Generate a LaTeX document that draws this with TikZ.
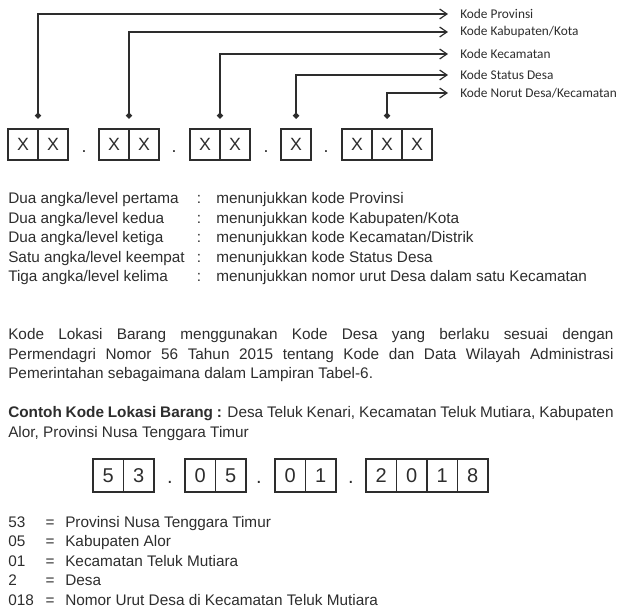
\documentclass[tikz,border=0pt]{standalone}
\usepackage{fontspec}
\setmainfont{Liberation Sans}
\newfontfamily\labelfont{Carlito}
\usetikzlibrary{arrows.meta,positioning}
\definecolor{inkGray}{RGB}{45,45,45}
\hyphenpenalty=10000
\exhyphenpenalty=10000

\begin{document}
\begin{tikzpicture}[x=0.75pt,y=-0.75pt,font=\fontsize{11.5}{14.6}\selectfont,text=inkGray,
 cell/.style={draw=inkGray,line width=.8pt,minimum width=22.5pt,minimum height=23.25pt,inner sep=0pt,font=\fontsize{13.3}{16}\selectfont},
 digitcell/.style={cell,minimum width=22.9pt,minimum height=24.75pt,font=\fontsize{15}{18}\selectfont},
 dotsep/.style={anchor=base,inner sep=0pt,font=\fontsize{13.3}{16}\selectfont},
 kodelabel/.style={anchor=west,inner xsep=9pt,inner ysep=0pt,font=\labelfont\fontsize{10}{12}\selectfont},
 rowtext/.style={anchor=base west,inner sep=0pt},
 conn/.style={{Diamond[length=5pt,width=5pt]}-{Straight Barb[length=5.5pt,width=7.5pt]},line width=.9pt,draw=inkGray}]
\path[use as bounding box] (0,0) rectangle (622,613);
% code template
\foreach \cx [count=\i] in {23,53,114,144,205,235,296,357,387,417}
 \node[cell] (x\i) at (\cx,144.5) {X};
\foreach \dx [count=\i] in {84,174,266,326}
 \node[dotsep] (sepx\i) at (\dx,153) {.};
\node[kodelabel] (kode1) at (448,14) {Kode Provinsi};
\node[kodelabel] (kode2) at (448,32) {Kode Kabupaten/Kota};
\node[kodelabel] (kode3) at (448,54) {Kode Kecamatan};
\node[kodelabel] (kode4) at (448,75) {Kode Status Desa};
\node[kodelabel] (kode5) at (448,93) {Kode Norut Desa/Kecamatan};
\foreach \px [count=\i] in {38,129,220,296,387} {
 \coordinate (pin\i) at (\px,119);
 \draw[conn] (pin\i) |- (kode\i.west);
}
% level list
\foreach \lvl/\desc [count=\i] in {{Dua angka/level pertama}/{menunjukkan kode Provinsi},
 {Dua angka/level kedua}/{menunjukkan kode Kabupaten/Kota},
 {Dua angka/level ketiga}/{menunjukkan kode Kecamatan/Distrik},
 {Satu angka/level keempat}/{menunjukkan kode Status Desa},
 {Tiga angka/level kelima}/{menunjukkan nomor urut Desa dalam satu Kecamatan}} {
 \node[rowtext] (lvl\i) at (8,{204+19.5*(\i-1)}) {\lvl};
 \node[anchor=base,inner sep=0pt] (colon\i) at (199,{204+19.5*(\i-1)}) {:};
 \node[rowtext] (desc\i) at (216,{204+19.5*(\i-1)}) {\desc};
}
\node[anchor=north west,inner sep=0pt,text width=454pt,align=justify] (aturan) at (8,328.6)
 {Kode Lokasi Barang menggunakan Kode Desa yang berlaku sesuai dengan\linebreak
 Permendagri Nomor 56 Tahun 2015 tentang Kode dan Data Wilayah Administrasi\linebreak
 Pemerintahan sebagaimana dalam Lampiran Tabel-6.};
\node[anchor=north west,inner sep=0pt,text width=454pt,align=justify] (contoh) at (8,406.6)
 {\textbf{Contoh Kode Lokasi Barang :} Desa Teluk Kenari, Kecamatan Teluk Mutiara, Kabupaten
 Alor, Provinsi Nusa Tenggara Timur};
% example code
\foreach \cx/\d [count=\i] in {108.25/5,138.75/3,200.25/0,230.75/5,290.25/0,320.75/1,381.25/2,411.75/0,442.25/1,472.75/8}
 \node[digitcell] (d\i) at (\cx,475.5) {\d};
\foreach \dx [count=\i] in {170,259,351}
 \node[dotsep,font=\fontsize{15}{18}\selectfont] (sepd\i) at (\dx,483) {.};
\foreach \kode/\arti [count=\i] in {{53}/{Provinsi Nusa Tenggara Timur},{05}/{Kabupaten Alor},
 {01}/{Kecamatan Teluk Mutiara},{2}/{Desa},{018}/{Nomor Urut Desa di Kecamatan Teluk Mutiara}} {
 \node[rowtext] (kd\i) at (8,{527+19.5*(\i-1)}) {\kode};
 \node[anchor=base,inner sep=0pt] (eq\i) at (50,{527+19.5*(\i-1)}) {=};
 \node[rowtext] (arti\i) at (65,{527+19.5*(\i-1)}) {\arti};
}
\end{tikzpicture}
\end{document}
